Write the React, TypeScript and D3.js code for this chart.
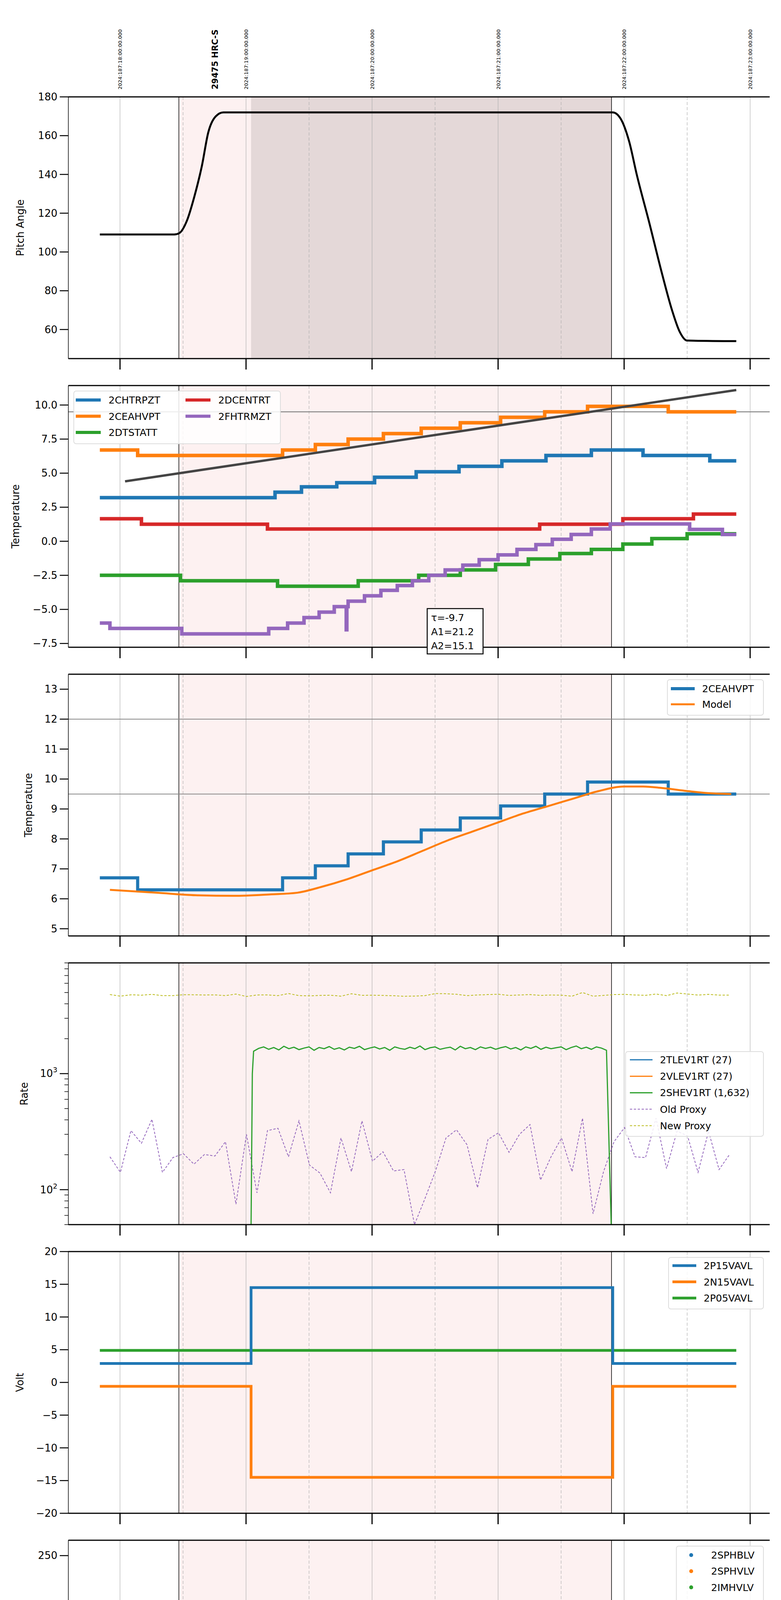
import * as d3 from "d3";

// ---- time axis (decimal hours, local) ----
const hourTicks = [14, 15, 16, 17, 18, 19];
const halfTicks = [14.5, 15.5, 16.5, 17.5, 18.5];
const topLabels = [
  "2024:187:18:00:00.000", "2024:187:19:00:00.000", "2024:187:20:00:00.000",
  "2024:187:21:00:00.000", "2024:187:22:00:00.000", "2024:187:23:00:00.000",
];
const obsTitle = "29475 HRC-S";
const obsStart = 14.467, obsEnd = 17.90, hvOn = 15.04;

// ---- panel 1: pitch ----
const pitch: [number, number][] = [
  [13.84, 109], [14.43, 109], [14.47, 109.7], [14.53, 116], [14.59, 128.6], [14.65, 144.5],
  [14.70, 161.6], [14.76, 170], [14.82, 172], [17.91, 172], [17.97, 169], [18.04, 157],
  [18.10, 140], [18.20, 115], [18.30, 89], [18.38, 70], [18.44, 59], [18.50, 54.3], [18.89, 54],
];
const pitchTicks = [60, 80, 100, 120, 140, 160, 180];

// ---- panel 2: temperatures (step series: [start, level], last = end) ----
const chtrpzt: [number, number][] = [[13.84, 3.2], [15.23, 3.6], [15.44, 4.0], [15.72, 4.3], [16.02, 4.7], [16.35, 5.1], [16.69, 5.5], [17.03, 5.9], [17.38, 6.3], [17.74, 6.7], [18.15, 6.3], [18.68, 5.9], [18.89, 5.9]];
const ceahvpt: [number, number][] = [[13.84, 6.7], [14.14, 6.3], [15.29, 6.7], [15.55, 7.1], [15.81, 7.5], [16.09, 7.9], [16.39, 8.3], [16.70, 8.7], [17.02, 9.1], [17.37, 9.5], [17.71, 9.9], [18.35, 9.5], [18.89, 9.5]];
const dtstatt: [number, number][] = [[13.84, -2.5], [14.48, -2.9], [15.25, -3.3], [15.89, -2.9], [16.37, -2.5], [16.70, -2.1], [16.98, -1.7], [17.24, -1.3], [17.49, -0.9], [17.74, -0.6], [17.99, -0.2], [18.22, 0.2], [18.50, 0.55], [18.89, 0.55]];
const dcentrt: [number, number][] = [[13.84, 1.65], [14.17, 1.25], [15.17, 0.9], [17.33, 1.25], [17.99, 1.65], [18.55, 2.0], [18.89, 2.0]];
const fhtrmzt: [number, number][] = [[13.84, -6.0], [13.92, -6.4], [14.49, -6.8], [15.18, -6.4], [15.33, -6.0], [15.46, -5.6], [15.58, -5.2], [15.70, -4.8], [15.795, -6.5], [15.80, -4.8], [15.81, -4.4], [15.94, -4.0], [16.07, -3.6], [16.20, -3.25], [16.32, -2.9], [16.45, -2.5], [16.58, -2.1], [16.72, -1.75], [16.85, -1.35], [17.00, -1.0], [17.15, -0.6], [17.30, -0.25], [17.43, 0.15], [17.58, 0.5], [17.74, 0.9], [17.89, 1.27], [18.52, 0.87], [18.78, 0.5], [18.89, 0.5]];
const fitLine: [number, number][] = [[14.04, 4.4], [18.89, 11.1]];
const tempTicks = [-7.5, -5.0, -2.5, 0.0, 2.5, 5.0, 7.5, 10.0];
const fitText = ["\u03c4=-9.7", "A1=21.2", "A2=15.1"];

// ---- panel 3: 2CEAHVPT vs model ----
const model: [number, number][] = [[13.92, 6.3], [14.3, 6.2], [14.6, 6.12], [14.9, 6.1], [15.2, 6.15], [15.4, 6.2], [15.6, 6.4], [15.8, 6.65], [16.0, 6.95], [16.2, 7.25], [16.4, 7.6], [16.6, 7.95], [16.8, 8.25], [17.0, 8.55], [17.2, 8.85], [17.4, 9.1], [17.6, 9.35], [17.8, 9.6], [18.0, 9.75], [18.15, 9.75], [18.3, 9.7], [18.5, 9.6], [18.7, 9.52], [18.85, 9.5]];
const ceaTicks = [5, 6, 7, 8, 9, 10, 11, 12, 13];

// ---- panel 4: rates (5-minute samples from 13.92h) ----
const oldProxy = [192, 141, 323, 251, 404, 141, 189, 204, 166, 201, 195, 259, 75, 300, 94, 323, 338, 192, 392, 163, 139, 94, 279, 143, 392, 176, 212, 145, 149, 50, 84, 145, 279, 328, 244, 104, 271, 309, 210, 300, 364, 121, 192, 279, 143, 413, 62, 143, 259, 343, 192, 189, 413, 152, 319, 291, 141, 319, 149, 201];
const newProxy = [4800, 4650, 4780, 4740, 4820, 4700, 4700, 4790, 4780, 4760, 4770, 4700, 4850, 4620, 4760, 4770, 4700, 4900, 4700, 4680, 4720, 4740, 4650, 4880, 4730, 4740, 4720, 4690, 4640, 4660, 4700, 4900, 4880, 4830, 4700, 4760, 4800, 4830, 4720, 4760, 4800, 4720, 4760, 4740, 4650, 5000, 4650, 4720, 4800, 4820, 4760, 4730, 4850, 4700, 4950, 4850, 4750, 4820, 4750, 4750];
const shev1rt = [1560, 1650, 1700, 1620, 1680, 1600, 1720, 1640, 1690, 1610, 1660, 1700, 1590, 1680, 1640, 1710, 1620, 1670, 1600, 1690, 1650, 1720, 1610, 1660, 1700, 1630, 1680, 1590, 1700, 1650, 1620, 1690, 1640, 1730, 1610, 1670, 1700, 1620, 1660, 1690, 1600, 1720, 1640, 1680, 1610, 1700, 1650, 1690, 1620, 1670, 1710, 1630, 1680, 1600, 1700, 1650, 1720, 1620, 1690, 1640, 1670, 1700, 1610, 1680, 1730, 1640, 1690, 1620, 1700, 1660, 1590];

// ---- panel 5: voltages ----
const p15: [number, number][] = [[13.84, 2.9], [15.04, 14.5], [17.91, 2.9], [18.89, 2.9]];
const n15: [number, number][] = [[13.84, -0.6], [15.04, -14.5], [17.91, -0.6], [18.89, -0.6]];
const p05: [number, number][] = [[13.84, 4.9], [18.89, 4.9]];
const voltTicks = [-20, -15, -10, -5, 0, 5, 10, 15, 20];

// ---- panel 6: HV monitor ----
const sphblvStart: [number, number][] = [[15.07, 117], [15.08, 102], [15.09, 102], [15.10, 97], [15.11, 92], [15.12, 87], [15.13, 82], [15.14, 78]];
const sphblvLevel: [number, number][] = [[15.14, 77], [17.90, 77]];
const sphvlvStart: [number, number][] = [[15.07, 127], [15.072, 125], [15.08, 96], [15.09, 91], [15.10, 86], [15.11, 84], [15.12, 80], [15.13, 75], [15.14, 71]];
const sphvlvLevel: [number, number][] = [[15.14, 71], [17.90, 71]];
const sphvlvOutliers: [number, number][] = [[16.08, 127], [16.12, 127], [16.19, 127], [16.21, 127], [16.60, 127], [16.62, 127], [16.67, 127], [16.75, 127], [16.79, 127]];
const hvTicks = [0, 50, 100, 150, 200, 250];

// ---- panel 7: detector temps ----
const spinatm: [number, number][] = [[15.05, 2.2], [15.74, 2.75], [16.87, 3.2], [17.68, 3.65], [17.89, 3.65]];
const sphvatm: [number, number][] = [[15.05, 14.7], [15.21, 15.0], [15.29, 15.4], [15.37, 15.7], [15.44, 16.1], [15.53, 16.4], [15.62, 16.8], [15.74, 17.1], [15.85, 17.5], [15.97, 17.8], [16.26, 18.5], [16.43, 18.9], [16.62, 19.25], [16.82, 19.6], [17.09, 20.0], [17.35, 20.3], [17.63, 20.7], [17.89, 21.1], [17.90, 21.1]];
const iminatm: [number, number][] = [[15.05, 1.3], [15.34, 0.85], [17.29, 1.3], [17.89, 1.3]];
const imhvatm: [number, number][] = [[15.04, -1], [15.05, 14.0], [15.31, 13.6], [15.37, 14.0], [15.75, 14.3], [16.07, 14.6], [16.34, 15.0], [16.60, 15.35], [16.90, 15.7], [17.19, 16.05], [17.48, 16.4], [17.77, 16.7], [17.89, 16.7]];
const detTicks = [0.0, 2.5, 5.0, 7.5, 10.0, 12.5, 15.0, 17.5, 20.0];
// dropout bursts: [start, end, low, high]
const spinBursts: [number, number, number, number][] = [[16.02, 16.24, -1, 2.75], [16.63, 16.67, -1, 2.75], [16.73, 16.80, -1, 2.75]];
const sphvBursts: [number, number, number, number][] = [[16.02, 16.24, 9.0, 17.8], [16.615, 16.625, 2.9, 19.2], [16.62, 16.67, 9.6, 19.2], [16.73, 16.80, 9.9, 19.2]];
const iminBursts: [number, number, number, number][] = [[16.02, 16.24, 0.85, 2.8], [16.61, 16.67, -1, 2.8], [16.73, 16.80, 0.85, 2.8]];
const imhvBursts: [number, number, number, number][] = [[16.02, 16.26, 14.5, 18.2], [16.61, 16.66, 9.6, 19.0], [16.73, 16.80, 15.3, 19.2], [17.885, 17.915, -1, 22]];

// ---- panel 8: FEA temps ----
const fradpyt: [number, number][] = [[15.30, -8.5], [15.34, -7.6], [15.46, -7.2], [15.57, -6.8], [15.68, -6.4], [15.80, -6.0], [15.93, -5.6], [16.06, -5.2], [16.19, -4.8], [16.32, -4.4], [16.47, -4.05], [16.62, -3.65], [16.75, -3.3], [16.90, -2.9], [17.06, -2.5], [17.21, -2.1], [17.37, -1.75], [17.52, -1.4], [17.68, -1.0], [17.85, -0.6], [18.44, -1.0], [18.53, -1.4], [18.64, -1.75], [18.77, -2.13], [18.89, -2.13]];
const fepratm: [number, number][] = [[15.035, -8.5], [15.04, -6.87], [15.10, -6.43], [15.14, -6.0], [15.20, -5.59], [15.26, -5.18], [15.35, -4.8], [15.44, -4.37], [15.54, -3.96], [15.66, -3.55], [15.77, -3.13], [15.90, -2.7], [16.03, -2.27], [16.17, -1.84], [16.31, -1.42], [16.45, -0.97], [16.60, -0.52], [16.74, -0.1], [16.91, 0.35], [17.08, 0.8], [17.25, 1.26], [17.43, 1.73], [17.60, 2.18], [17.79, 2.65], [17.89, 2.65]];
const fe00atm: [number, number][] = [[15.035, -8.5], [15.04, -7.83], [15.14, -7.48], [15.25, -7.13], [15.35, -6.75], [15.44, -6.4], [15.50, -6.05], [15.61, -5.71], [15.70, -5.35], [15.78, -5.0], [15.87, -4.66], [15.97, -4.31], [16.26, -3.63], [16.30, -3.3], [16.38, -2.93], [16.49, -2.6], [16.58, -2.26], [16.72, -1.95], [16.82, -1.61], [16.91, -1.26], [17.02, -0.94], [17.14, -0.6], [17.26, -0.27], [17.37, 0.06], [17.50, 0.37], [17.61, 0.72], [17.74, 1.01], [17.86, 1.3], [17.89, 1.3]];
const fepraBursts: [number, number, number, number][] = [[16.02, 16.24, -9, -2.3], [16.61, 16.67, -9, -0.5], [16.73, 16.80, -9, -0.5]];
const fe00Bursts: [number, number, number, number][] = [[16.02, 16.26, -4.3, 3], [16.60, 16.70, -2.4, 3], [16.73, 16.80, -2.0, 3], [17.885, 17.915, -9, 3]];
const feaTicks = [-6, -4, -2, 0, 2];

const C = { blue: "#1f77b4", orange: "#ff7f0e", green: "#2ca02c", red: "#d62728", purple: "#9467bd", olive: "#bcbd22" };
const FONT = "DejaVu Sans";
const x = d3.scaleLinear().domain([13.59, 19.155]).range([175, 1971]);
const TOPS = [248, 987, 1726, 2465, 3204, 3943, 4682, 5420];
const PH = 670;

type Item = { label: string; color: string; kind: "line" | "dash" | "dot"; w?: number };
type Leg = { box: [number, number, number, number]; y0: number; dy: number; sx: number; sl: number; tx: number; items: Item[]; col2?: number; perCol?: number };

const stepLine = (y: d3.ScaleContinuousNumeric<number, number>) =>
  d3.line<[number, number]>().x(d => x(d[0])).y(d => y(d[1])).curve(d3.curveStepAfter);
const smoothLine = (y: d3.ScaleContinuousNumeric<number, number>) =>
  d3.line<[number, number]>().x(d => x(d[0])).y(d => y(d[1])).curve(d3.curveMonotoneX);
const plainLine = (y: d3.ScaleContinuousNumeric<number, number>) =>
  d3.line<[number, number]>().x(d => x(d[0])).y(d => y(d[1]));

function Legend({ l }: { l: Leg }) {
  const [bx, by, bw, bh] = l.box;
  return (
    <g fontFamily={FONT} fontSize={25}>
      <rect x={bx} y={by} width={bw} height={bh} rx={6} fill="white" fillOpacity={0.85} stroke="#ddd" strokeWidth={2} />
      {l.items.map((it, i) => {
        const col = l.perCol ? Math.floor(i / l.perCol) : 0;
        const row = l.perCol ? i % l.perCol : i;
        const ox = col * (l.col2 || 0);
        const yy = l.y0 + row * l.dy;
        return (
          <g key={i}>
            {it.kind === "dot" ? (
              <circle cx={bx + l.sx + ox + l.sl / 2} cy={yy} r={5} fill={it.color} />
            ) : (
              <line x1={bx + l.sx + ox} x2={bx + l.sx + ox + l.sl} y1={yy} y2={yy} stroke={it.color}
                strokeWidth={it.w || 8} strokeDasharray={it.kind === "dash" ? "6,4" : undefined} />
            )}
            <text x={bx + l.tx + ox} y={yy + 9}>{it.label}</text>
          </g>
        );
      })}
    </g>
  );
}

function Panel({ i, y, ticks, fmt, label, labelX, minor, children, dark }: any) {
  const top = TOPS[i], bot = top + PH;
  const [x0, x1] = [175, 1971];
  return (
    <g>
      <defs><clipPath id={`c${i}`}><rect x={x0} y={top} width={x1 - x0} height={PH} /></clipPath></defs>
      <rect x={x(obsStart)} y={top} width={x(obsEnd) - x(obsStart)} height={PH} fill="#fdf1f1" />
      {dark && <rect x={x(hvOn)} y={top} width={x(obsEnd) - x(hvOn)} height={PH} fill="#e4d8d8" />}
      {hourTicks.map(h => <line key={h} x1={x(h)} x2={x(h)} y1={top} y2={bot} stroke="#b0b0b0" strokeWidth={1.2} />)}
      {halfTicks.map(h => <line key={h} x1={x(h)} x2={x(h)} y1={top} y2={bot} stroke="#b0b0b0" strokeWidth={1.2} strokeDasharray="8,5" />)}
      <line x1={x(obsStart)} x2={x(obsStart)} y1={top} y2={bot} stroke="black" strokeWidth={1.5} />
      <line x1={x(obsEnd)} x2={x(obsEnd)} y1={top} y2={bot} stroke="black" strokeWidth={1.5} />
      <g clipPath={`url(#c${i})`}>{children}</g>
      <line x1={x0} x2={x1} y1={top} y2={top} stroke="black" strokeWidth={3} />
      <line x1={x0} x2={x1} y1={bot} y2={bot} stroke="black" strokeWidth={3} />
      <line x1={x0} x2={x0} y1={top} y2={bot} stroke="black" strokeWidth={1.5} />
      {hourTicks.map(h => <line key={h} x1={x(h)} x2={x(h)} y1={bot} y2={bot + 28} stroke="black" strokeWidth={3} />)}
      {minor && minor.map((v: number, k: number) => <line key={k} x1={x0 - 10} x2={x0} y1={y(v)} y2={y(v)} stroke="black" strokeWidth={1.5} />)}
      {ticks.map((v: number) => (
        <g key={v}>
          <line x1={x0 - 22} x2={x0} y1={y(v)} y2={y(v)} stroke="black" strokeWidth={2.5} />
          <text x={x0 - 28} y={y(v) + 9} textAnchor="end" fontFamily={FONT} fontSize={26}>{fmt(v)}</text>
        </g>
      ))}
      <text transform={`translate(${labelX + 9},${top + PH / 2}) rotate(-90)`} textAnchor="middle" fontFamily={FONT} fontSize={26}>{label}</text>
    </g>
  );
}

export default function App() {
  const ys = [
    d3.scaleLinear().domain([45, 180]).range([TOPS[0] + PH, TOPS[0]]),
    d3.scaleLinear().domain([-7.78, 11.43]).range([TOPS[1] + PH, TOPS[1]]),
    d3.scaleLinear().domain([4.76, 13.5]).range([TOPS[2] + PH, TOPS[2]]),
    d3.scaleLog().domain([50, 9000]).range([TOPS[3] + PH, TOPS[3]]),
    d3.scaleLinear().domain([-20, 20]).range([TOPS[4] + PH, TOPS[4]]),
    d3.scaleLinear().domain([0, 265.6]).range([TOPS[5] + PH, TOPS[5]]),
    d3.scaleLinear().domain([-0.69, 21.45]).range([TOPS[6] + PH, TOPS[6]]),
    d3.scaleLinear().domain([-7.89, 2.31]).range([TOPS[7] + PH, TOPS[7]]),
  ];
  const intF = d3.format("d");
  const oneF = d3.format(".1f");
  const sampleT = (k: number) => 13.92 + k / 12;
  const shevT = (k: number) => 15.06 + k * 0.04;
  const bursts = (b: [number, number, number, number][], y: any, color: string) =>
    b.map((r, k) => <rect key={k} x={x(r[0])} width={Math.max(3, x(r[1]) - x(r[0]))} y={y(r[3])} height={y(r[2]) - y(r[3])} fill={color} />);
  const logMinor: number[] = [];
  [10, 100, 1000].forEach(d => [2, 3, 4, 5, 6, 7, 8, 9].forEach(m => { if (d * m >= 50 && d * m <= 9000) logMinor.push(d * m); }));

  return (
    <div style={{ margin: -8, width: 2000, height: 6200 }}>
    <svg width={2000} height={6200} style={{ display: "block", background: "white" }}>
      {/* top time labels */}
      {hourTicks.map((h, k) => (
        <text key={h} transform={`translate(${x(h) + 5},229) rotate(-90)`} fontFamily={FONT} fontSize={13}>{topLabels[k]}</text>
      ))}
      <text transform={`translate(${x(14.75) + 9},229) rotate(-90)`} fontFamily={FONT} fontSize={21} fontWeight="bold">{obsTitle}</text>

      <Panel i={0} y={ys[0]} ticks={pitchTicks} fmt={intF} label="Pitch Angle" labelX={52} dark>
        <path d={smoothLine(ys[0])(pitch)!} fill="none" stroke="black" strokeWidth={5} />
      </Panel>

      <Panel i={1} y={ys[1]} ticks={tempTicks} fmt={oneF} label="Temperature" labelX={40}>
        <line x1={175} x2={1971} y1={ys[1](9.5)} y2={ys[1](9.5)} stroke="#888" strokeWidth={2.5} />
        {[[chtrpzt, C.blue], [ceahvpt, C.orange], [dtstatt, C.green], [dcentrt, C.red], [fhtrmzt, C.purple]].map(([d, c]: any, k) => (
          <path key={k} d={stepLine(ys[1])(d)!} fill="none" stroke={c} strokeWidth={9} />
        ))}
        <path d={plainLine(ys[1])(fitLine)!} fill="none" stroke="#444" strokeWidth={6} />
      </Panel>
      <Legend l={{ box: [189, 1001, 529, 135], y0: 1024, dy: 41.5, sx: 5, sl: 64, tx: 89, perCol: 3, col2: 281,
        items: [{ label: "2CHTRPZT", color: C.blue, kind: "line" }, { label: "2CEAHVPT", color: C.orange, kind: "line" }, { label: "2DTSTATT", color: C.green, kind: "line" },
          { label: "2DCENTRT", color: C.red, kind: "line" }, { label: "2FHTRMZT", color: C.purple, kind: "line" }] }} />
      <g fontFamily={FONT} fontSize={25}>
        <rect x={1094} y={1558} width={143} height={116} fill="white" stroke="black" strokeWidth={2.5} />
        {fitText.map((t, k) => <text key={k} x={1104} y={1590 + k * 36}>{t}</text>)}
      </g>

      <Panel i={2} y={ys[2]} ticks={ceaTicks} fmt={intF} label="Temperature" labelX={73}>
        <line x1={175} x2={1971} y1={ys[2](12)} y2={ys[2](12)} stroke="#888" strokeWidth={2} />
        <line x1={175} x2={1971} y1={ys[2](9.5)} y2={ys[2](9.5)} stroke="#888" strokeWidth={2} />
        <path d={stepLine(ys[2])(ceahvpt)!} fill="none" stroke={C.blue} strokeWidth={8} />
        <path d={smoothLine(ys[2])(model)!} fill="none" stroke={C.orange} strokeWidth={5} />
      </Panel>
      <Legend l={{ box: [1709, 1740, 246, 91], y0: 1763, dy: 40, sx: 9, sl: 61, tx: 89,
        items: [{ label: "2CEAHVPT", color: C.blue, kind: "line" }, { label: "Model", color: C.orange, kind: "line", w: 5 }] }} />

      <Panel i={3} y={ys[3]} ticks={[100, 1000]} fmt={() => ""} minor={logMinor} label="Rate" labelX={62}>
        <path d={d3.line<number>().x((_, k) => x(sampleT(k))).y(v => ys[3](v))(newProxy)!} fill="none" stroke={C.olive} strokeWidth={2} strokeDasharray="6,4" />
        <path d={d3.line<number>().x((_, k) => x(sampleT(k))).y(v => ys[3](v))(oldProxy)!} fill="none" stroke={C.purple} strokeWidth={2} strokeDasharray="6,4" />
        <path d={"M" + x(15.04) + "," + ys[3](50) + "L" + x(15.05) + "," + ys[3](1000) + d3.line<number>().x((_, k) => x(shevT(k))).y(v => ys[3](v))(shev1rt)!.replace("M", "L") + "L" + x(17.90) + "," + ys[3](40)} fill="none" stroke={C.green} strokeWidth={3} />
      </Panel>
      {[100, 1000].map((v, k) => (
        <text key={v} x={147} y={ys[3](v) + 9} textAnchor="end" fontFamily={FONT} fontSize={26}>10<tspan dy={-12} fontSize={18}>{k + 2}</tspan></text>
      ))}
      <Legend l={{ box: [1602, 2692, 353, 217], y0: 2713, dy: 42.2, sx: 11, sl: 58, tx: 88,
        items: [{ label: "2TLEV1RT (27)", color: C.blue, kind: "line", w: 3 }, { label: "2VLEV1RT (27)", color: C.orange, kind: "line", w: 3 },
          { label: "2SHEV1RT (1,632)", color: C.green, kind: "line", w: 3 }, { label: "Old Proxy", color: C.purple, kind: "dash", w: 2 }, { label: "New Proxy", color: C.olive, kind: "dash", w: 2 }] }} />

      <Panel i={4} y={ys[4]} ticks={voltTicks} fmt={intF} label="Volt" labelX={51}>
        <path d={stepLine(ys[4])(p05)!} fill="none" stroke={C.green} strokeWidth={7} />
        <path d={stepLine(ys[4])(p15)!} fill="none" stroke={C.blue} strokeWidth={7} />
        <path d={stepLine(ys[4])(n15)!} fill="none" stroke={C.orange} strokeWidth={7} />
      </Panel>
      <Legend l={{ box: [1712, 3219, 243, 132], y0: 3240, dy: 41.5, sx: 10, sl: 61, tx: 90,
        items: [{ label: "2P15VAVL", color: C.blue, kind: "line", w: 7 }, { label: "2N15VAVL", color: C.orange, kind: "line", w: 7 }, { label: "2P05VAVL", color: C.green, kind: "line", w: 7 }] }} />

      <Panel i={5} y={ys[5]} ticks={hvTicks} fmt={intF} label="HV Monitor" labelX={55}>
        <path d={plainLine(ys[5])(sphblvLevel)!} stroke={C.blue} strokeWidth={13} strokeLinecap="round" />
        <path d={plainLine(ys[5])(sphvlvLevel)!} stroke={C.orange} strokeWidth={10} strokeLinecap="round" />
        {sphblvStart.map((d, k) => <circle key={"b" + k} cx={x(d[0])} cy={ys[5](d[1])} r={5.5} fill={C.blue} />)}
        {[...sphvlvStart, ...sphvlvOutliers].map((d, k) => <circle key={"o" + k} cx={x(d[0])} cy={ys[5](d[1])} r={5.5} fill={C.orange} />)}
      </Panel>
      <Legend l={{ box: [1732, 3958, 223, 172], y0: 3981, dy: 41.3, sx: 28, sl: 20, tx: 89,
        items: [{ label: "2SPHBLV", color: C.blue, kind: "dot" }, { label: "2SPHVLV", color: C.orange, kind: "dot" }, { label: "2IMHVLV", color: C.green, kind: "dot" }, { label: "2IMHBLV", color: C.red, kind: "dot" }] }} />

      <Panel i={6} y={ys[6]} ticks={detTicks} fmt={oneF} label="Detector Temp" labelX={46}>
        <path d={stepLine(ys[6])(spinatm)!} fill="none" stroke={C.blue} strokeWidth={9} />
        {bursts(spinBursts, ys[6], C.blue)}
        <path d={stepLine(ys[6])(sphvatm)!} fill="none" stroke={C.orange} strokeWidth={9} />
        {bursts(sphvBursts, ys[6], C.orange)}
        <path d={stepLine(ys[6])(iminatm)!} fill="none" stroke={C.green} strokeWidth={9} />
        {bursts(iminBursts, ys[6], C.green)}
        <path d={stepLine(ys[6])(imhvatm)!} fill="none" stroke={C.red} strokeWidth={9} />
        {bursts(imhvBursts, ys[6], C.red)}
      </Panel>
      <Legend l={{ box: [1709, 4695, 246, 177], y0: 4719, dy: 41.7, sx: 8, sl: 62, tx: 88,
        items: [{ label: "2SPINATM", color: C.blue, kind: "line" }, { label: "2SPHVATM", color: C.orange, kind: "line" }, { label: "2IMINATM", color: C.green, kind: "line" }, { label: "2IMHVATM", color: C.red, kind: "line" }] }} />

      <Panel i={7} y={ys[7]} ticks={feaTicks} fmt={intF} label="FEA Temp" labelX={66}>
        <path d={stepLine(ys[7])(fhtrmzt)!} fill="none" stroke={C.blue} strokeWidth={9} />
        <path d={stepLine(ys[7])(fradpyt)!} fill="none" stroke={C.orange} strokeWidth={9} />
        <path d={stepLine(ys[7])(fepratm)!} fill="none" stroke={C.green} strokeWidth={9} />
        {bursts(fepraBursts, ys[7], C.green)}
        <path d={stepLine(ys[7])(fe00atm)!} fill="none" stroke={C.red} strokeWidth={9} />
        {bursts(fe00Bursts, ys[7], C.red)}
      </Panel>
      <Legend l={{ box: [189, 5434, 251, 176], y0: 5457, dy: 42.2, sx: 5, sl: 64, tx: 89,
        items: [{ label: "2FHTRMZT", color: C.blue, kind: "line" }, { label: "2FRADPYT", color: C.orange, kind: "line" }, { label: "2FEPRATM", color: C.green, kind: "line" }, { label: "2FE00ATM", color: C.red, kind: "line" }] }} />

      {/* bottom axis labels */}
      {hourTicks.map(h => <text key={h} x={x(h)} y={6150} textAnchor="middle" fontFamily={FONT} fontSize={27}>{h}h</text>)}
      {[14.5, ...halfTicks.slice(1)].map(h => <text key={h} x={x(h)} y={6112} textAnchor="middle" fontFamily={FONT} fontSize={15}>30</text>)}
      <text x={1073} y={6190} textAnchor="middle" fontFamily={FONT} fontSize={31}>2024-07-05 (187)</text>
    </svg>
    </div>
  );
}
